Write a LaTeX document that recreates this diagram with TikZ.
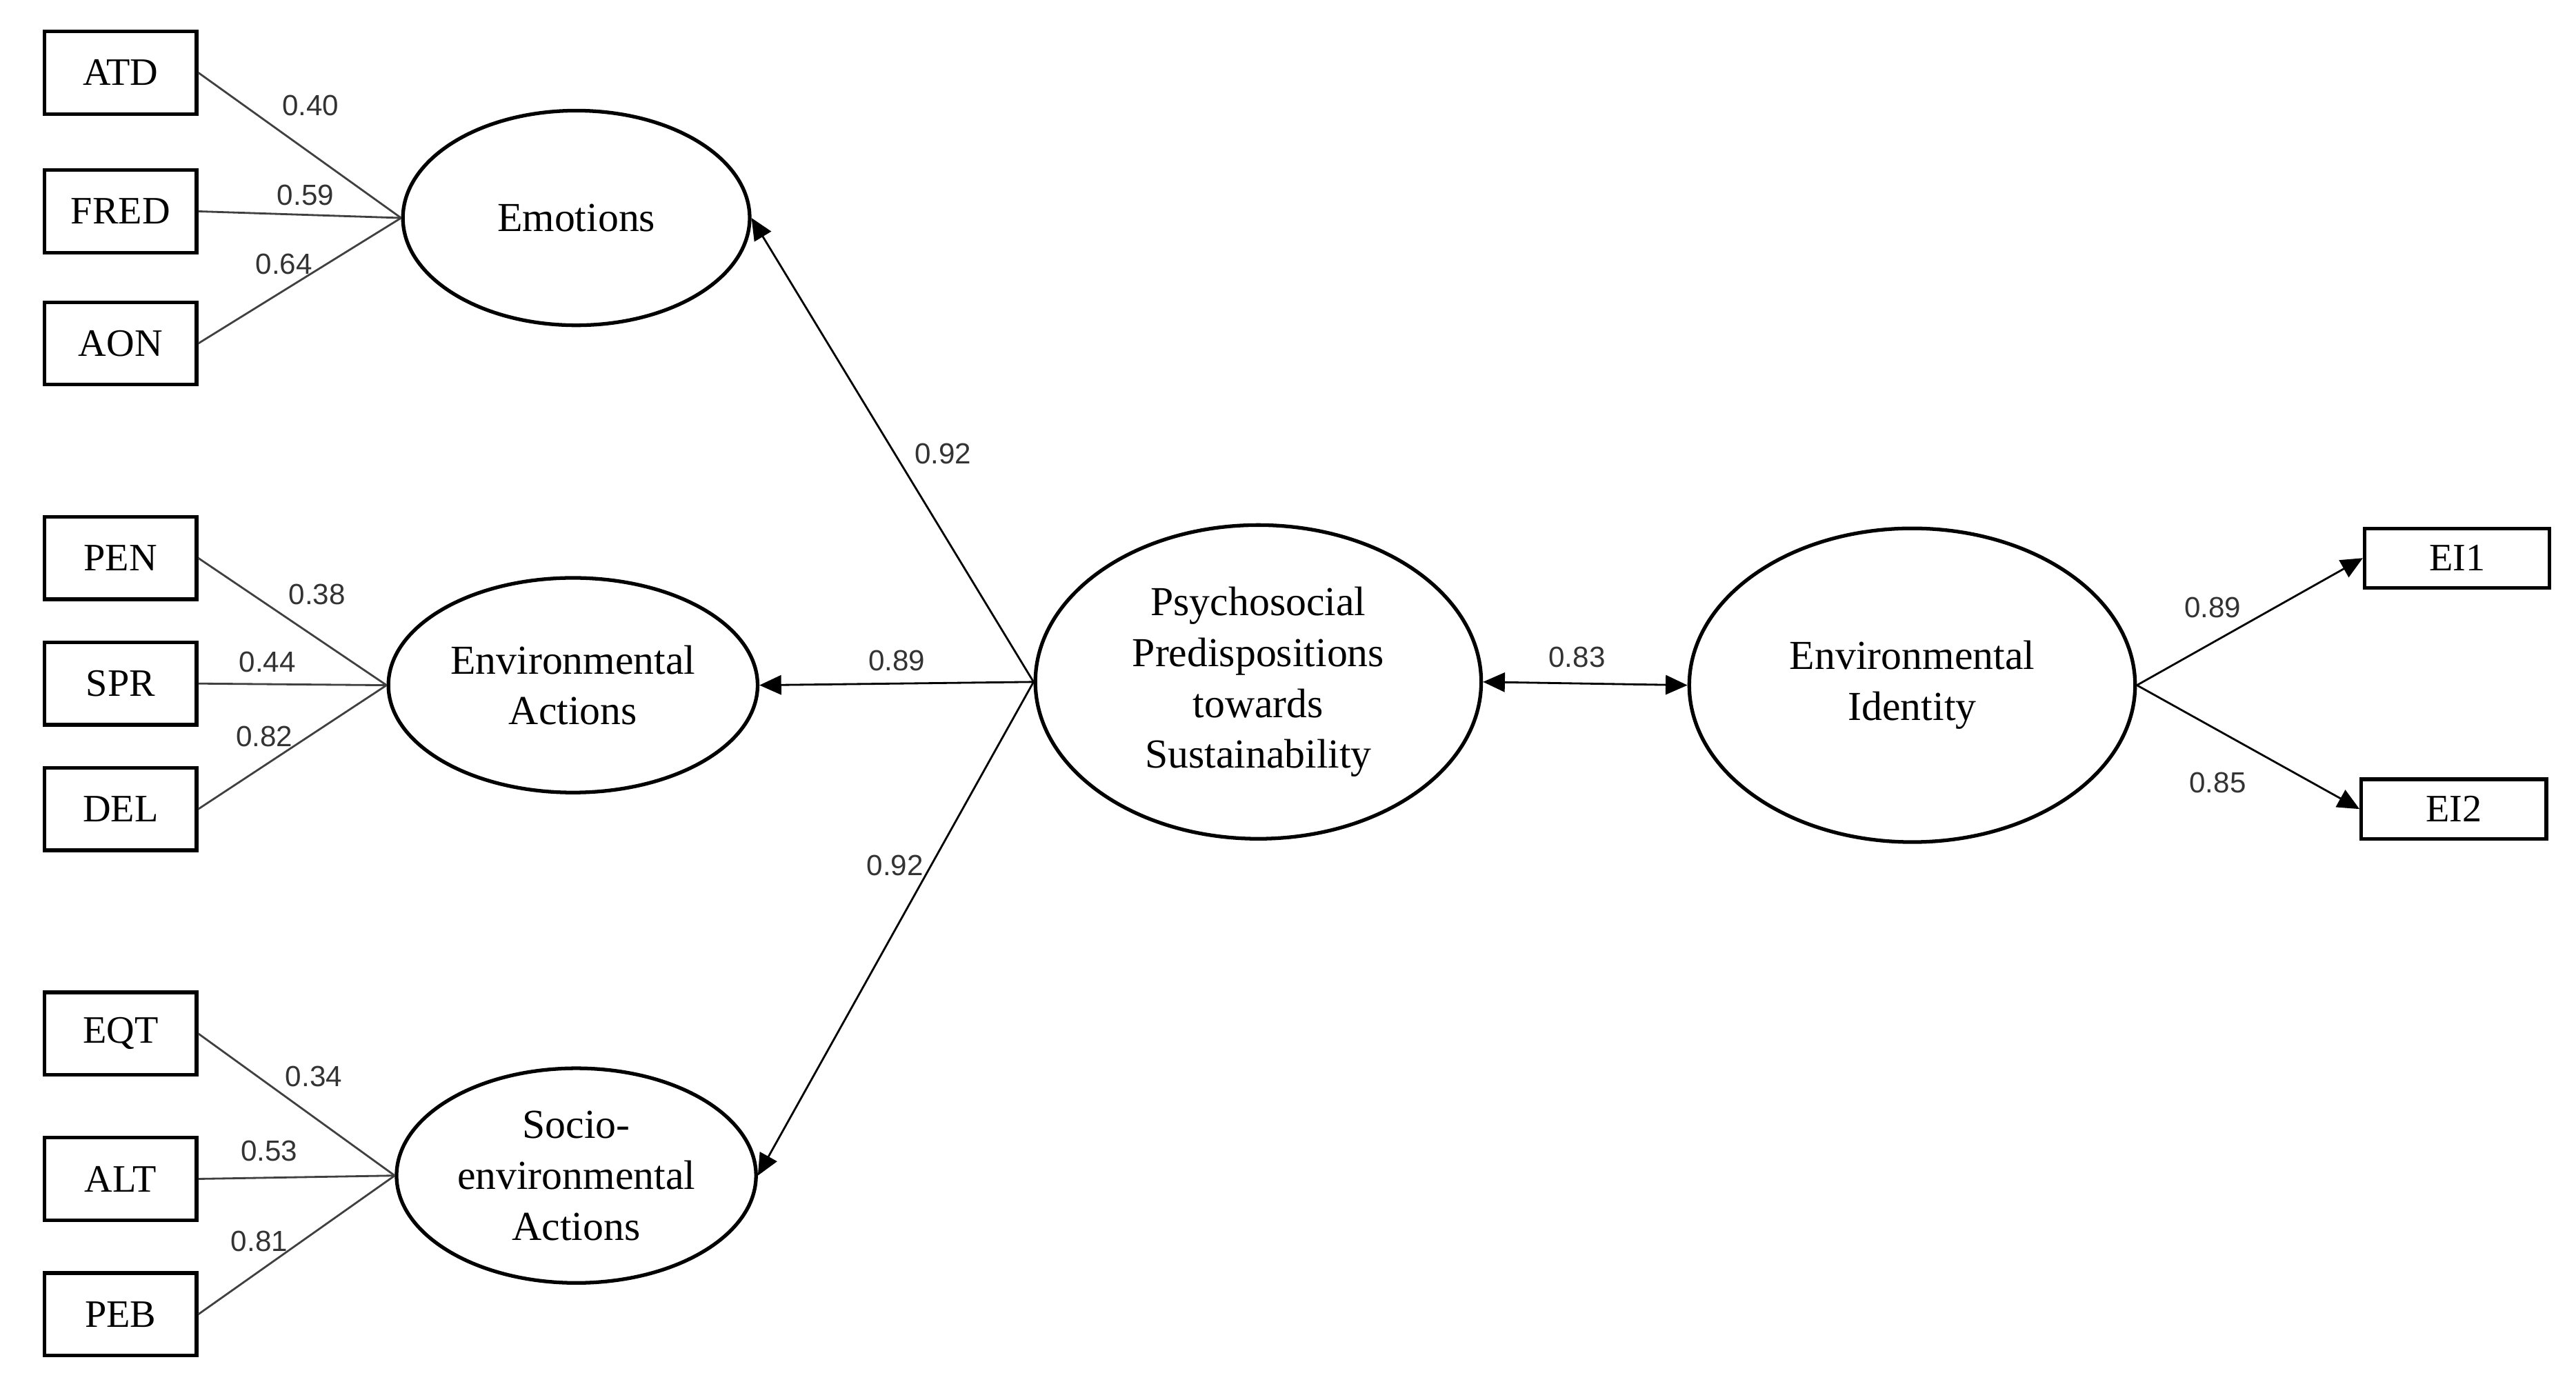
\documentclass[tikz,border=0pt]{standalone}
\usepackage{fontspec}
\setmainfont{Liberation Serif}
\newfontfamily\numfont{Liberation Sans}
\usetikzlibrary{arrows.meta, shapes.geometric}
\begin{document}
\begin{tikzpicture}[x=0.02394cm,y=-0.02394cm,
  obs/.style = {draw, line width=1.5pt, minimum width=92*0.02394cm, minimum height=50*0.02394cm, font=\fontsize{16}{18}\selectfont},
  lat/.style = {draw, ellipse, line width=1.5pt, minimum width=210*0.02394cm, minimum height=130*0.02394cm, align=center, font=\fontsize{17}{21}\selectfont},
  big/.style = {lat, minimum width=270*0.02394cm, minimum height=190*0.02394cm},
  ld/.style = {draw=black!75, line width=0.8pt},
  pa/.style = {draw, line width=0.8pt, -{Triangle[length=9pt,width=8pt]}},
  num/.style = {font=\numfont\fontsize{12}{14}\selectfont, text=black!80}]
\useasboundingbox (0,0) rectangle (1560,837);
\node[obs] (atd) at (73,44) {ATD};
\node[obs] (fred) at (73,128) {FRED};
\node[obs] (aon) at (73,208) {AON};
\node[obs] (pen) at (73,338) {PEN};
\node[obs] (spr) at (73,414) {SPR};
\node[obs] (del) at (73,490) {DEL};
\node[obs] (eqt) at (73,626) {EQT};
\node[obs] (alt) at (73,714) {ALT};
\node[obs] (peb) at (73,796) {PEB};
\node[obs, minimum width=112*0.02394cm, minimum height=36*0.02394cm] (ei1) at (1488,338) {EI1};
\node[obs, minimum width=112*0.02394cm, minimum height=36*0.02394cm] (ei2) at (1486,490) {EI2};
\node[lat] (emo) at (349,132) {Emotions};
\node[lat] (env) at (347,415) {Environmental\\Actions};
\node[lat] (soc) at (349,712) {Socio-\\environmental\\Actions};
\node[big] (psy) at (762,413) {Psychosocial\\Predispositions\\towards\\Sustainability};
\node[big] (eid) at (1158,415) {Environmental\\Identity};
\draw[ld] (atd.east) -- (emo.west);
\draw[ld] (fred.east) -- (emo.west);
\draw[ld] (aon.east) -- (emo.west);
\draw[ld] (pen.east) -- (env.west);
\draw[ld] (spr.east) -- (env.west);
\draw[ld] (del.east) -- (env.west);
\draw[ld] (eqt.east) -- (soc.west);
\draw[ld] (alt.east) -- (soc.west);
\draw[ld] (peb.east) -- (soc.west);
\draw[pa] (psy.west) -- (emo.east);
\draw[pa] (psy.west) -- (env.east);
\draw[pa] (psy.west) -- (soc.east);
\draw[pa, {Triangle[length=9pt,width=8pt]}-{Triangle[length=9pt,width=8pt]}] (psy.east) -- (eid.west);
\draw[pa] (eid.east) -- (ei1.west);
\draw[pa] (eid.east) -- (ei2.west);
\node[num] at (188,64) {0.40};
\node[num] at (185,118) {0.59};
\node[num] at (172,160) {0.64};
\node[num] at (192,360) {0.38};
\node[num] at (162,401) {0.44};
\node[num] at (160,446) {0.82};
\node[num] at (190,652) {0.34};
\node[num] at (163,697) {0.53};
\node[num] at (157,752) {0.81};
\node[num] at (571,275) {0.92};
\node[num] at (543,400) {0.89};
\node[num] at (542,524) {0.92};
\node[num] at (955,398) {0.83};
\node[num] at (1340,368) {0.89};
\node[num] at (1343,474) {0.85};
\end{tikzpicture}
\end{document}
